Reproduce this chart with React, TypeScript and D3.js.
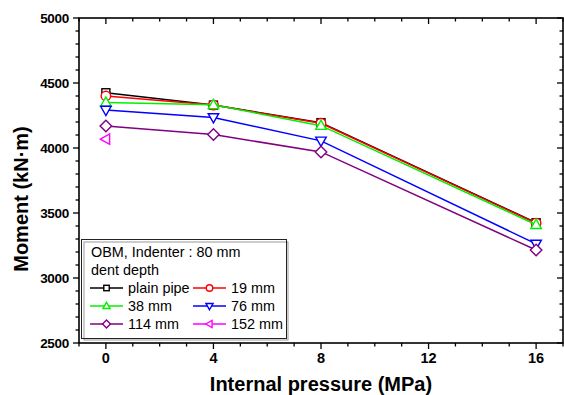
import React from "react";
import * as d3 from "d3";

const pressures = [0, 4, 8, 16];
const seriesNames = ["plain pipe", "19 mm", "38 mm", "76 mm", "114 mm", "152 mm"];
const plainPipe = [4425, 4330, 4195, 3425];
const mm19 = [4400, 4330, 4190, 3422];
const mm38 = [4350, 4332, 4172, 3410];
const mm76 = [4292, 4235, 4055, 3262];
const mm114 = [4170, 4103, 3970, 3215];
const mm152 = [4068];
const xTicks = [0, 4, 8, 12, 16];
const yTicks = [2500, 3000, 3500, 4000, 4500, 5000];
const colors = ["#000000", "#FF0000", "#00F000", "#0000FF", "#800080", "#FF00FF"];
const shapes = ["square", "circle", "up", "down", "diamond", "left"];
const allValues = [plainPipe, mm19, mm38, mm76, mm114, mm152];

const W = 564, H = 395;
const L = 79, R = 563, T = 18, B = 343;
const FONT = "'Liberation Sans', Arial, sans-serif";

function Marker({ shape, x, y, color, s = 5 }: any) {
  const common = { fill: "white", stroke: color, strokeWidth: 1.4 };
  switch (shape) {
    case "square":
      return <rect x={x - s * 0.8} y={y - s * 0.8} width={s * 1.6} height={s * 1.6} {...common} />;
    case "circle":
      return <circle cx={x} cy={y} r={s * 0.95} {...common} />;
    case "up":
      return <path d={`M${x},${y - s * 1.1} L${x + s * 1.05},${y + s * 0.75} L${x - s * 1.05},${y + s * 0.75} Z`} {...common} />;
    case "down":
      return <path d={`M${x},${y + s * 1.1} L${x + s * 1.05},${y - s * 0.75} L${x - s * 1.05},${y - s * 0.75} Z`} {...common} />;
    case "diamond":
      return <path d={`M${x},${y - s * 1.15} L${x + s * 1.15},${y} L${x},${y + s * 1.15} L${x - s * 1.15},${y} Z`} {...common} />;
    case "left":
      return <path d={`M${x - s * 1.1},${y} L${x + s * 0.75},${y - s * 1.05} L${x + s * 0.75},${y + s * 1.05} Z`} {...common} />;
  }
  return null;
}

export default function App() {
  const x = d3.scaleLinear().domain([-1, 17]).range([L, R]);
  const y = d3.scaleLinear().domain([2500, 5000]).range([B, T]);
  const line = d3.line<number>().x((_, i) => x(pressures[i])).y((d) => y(d));
  const xMinor = d3.range(-1, 18, 1);
  const yMinor = d3.range(2500, 5001, 100);

  const legendRows = [
    [0, 1],
    [2, 3],
    [4, 5],
  ];
  const colX = [90, 193];
  const rowY = [288, 306, 324];

  return (
    <svg width={W} height={H} style={{ position: "absolute", left: 0, top: 0, background: "white" }}>
      <rect x={0} y={0} width={W} height={H} fill="white" />
      {xMinor.map((v) => {
        const major = v % 4 === 0;
        const len = major ? 6 : 3.5;
        return (
          <g key={"xt" + v} stroke="black" strokeWidth={1.3}>
            <line x1={x(v)} x2={x(v)} y1={B} y2={B + len} />
            <line x1={x(v)} x2={x(v)} y1={T} y2={T + len} />
          </g>
        );
      })}
      {yMinor.map((v) => {
        const major = v % 500 === 0;
        const len = major ? 6 : 3.5;
        return (
          <g key={"yt" + v} stroke="black" strokeWidth={1.3}>
            <line x1={L} x2={L - len} y1={y(v)} y2={y(v)} />
            <line x1={R} x2={R - len} y1={y(v)} y2={y(v)} />
          </g>
        );
      })}
      <rect x={L} y={T} width={R - L} height={B - T} fill="none" stroke="black" strokeWidth={1.6} />
      {xTicks.map((v) => (
        <text key={"xl" + v} x={x(v)} y={362.5} textAnchor="middle" fontFamily={FONT} fontWeight="bold" fontSize={14.5}>
          {v}
        </text>
      ))}
      {yTicks.map((v) => (
        <text key={"yl" + v} x={69} y={y(v) + 5} textAnchor="end" fontFamily={FONT} fontWeight="bold" fontSize={13.5} letterSpacing={-0.3}>
          {v}
        </text>
      ))}
      <text x={321} y={391} textAnchor="middle" fontFamily={FONT} fontWeight="bold" fontSize={20}>
        Internal pressure (MPa)
      </text>
      <text transform={`translate(28,199) rotate(-90)`} textAnchor="middle" fontFamily={FONT} fontWeight="bold" fontSize={20}>
        Moment (kN·m)
      </text>

      {allValues.map((vals, si) => (
        <g key={"s" + si}>
          {vals.length > 1 && (
            <path d={line(vals) || ""} fill="none" stroke={colors[si]} strokeWidth={1.5} />
          )}
          {vals.map((v, i) => (
            <Marker key={i} shape={shapes[si]} x={x(pressures[i])} y={y(v)} color={colors[si]} />
          ))}
        </g>
      ))}

      <rect x={84} y={242} width={204} height={98} fill="white" stroke="#999" strokeWidth={1} />
      <rect x={81.5} y={239.5} width={205} height={99} fill="none" stroke="#222" strokeWidth={1} />
      <text x={91} y={257} fontFamily={FONT} fontSize={14.4}>OBM, Indenter : 80 mm</text>
      <text x={91} y={275} fontFamily={FONT} fontSize={14.4}>dent depth</text>
      {legendRows.map((row, ri) =>
        row.map((si, ci) => (
          <g key={"lg" + si}>
            <line x1={colX[ci]} x2={colX[ci] + 33} y1={rowY[ri]} y2={rowY[ri]} stroke={colors[si]} strokeWidth={1.4} />
            <Marker shape={shapes[si]} x={colX[ci] + 16.5} y={rowY[ri]} color={colors[si]} s={3.4} />
            <text x={colX[ci] + 38} y={rowY[ri] + 5} fontFamily={FONT} fontSize={14.4}>
              {seriesNames[si]}
            </text>
          </g>
        ))
      )}
    </svg>
  );
}
